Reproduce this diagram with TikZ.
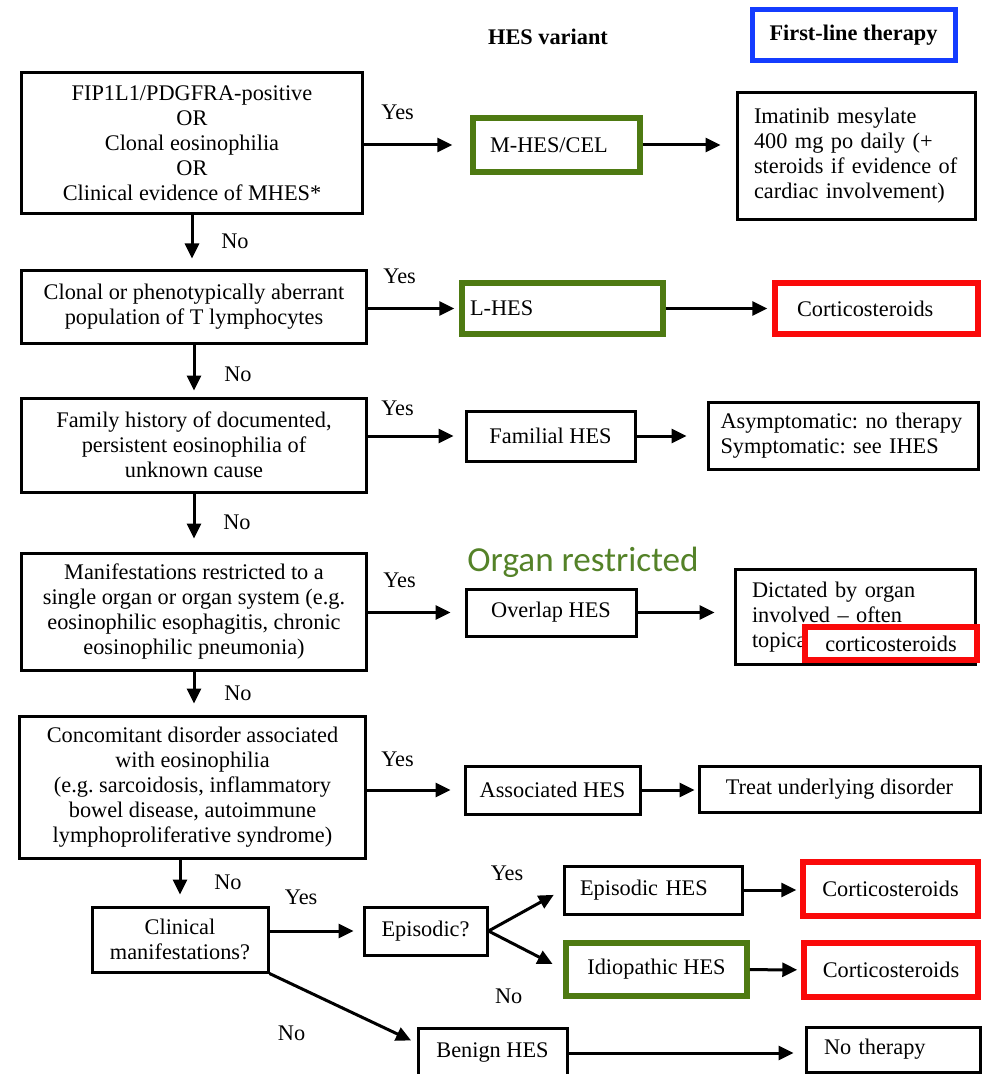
\documentclass[tikz,border=0pt]{standalone}
\usepackage{fontspec}
\setmainfont{Liberation Serif}
\newfontfamily\organfont{Carlito}
\usepackage{xcolor}
\usepackage{tikz}
\usetikzlibrary{arrows.meta,positioning,calc}
\definecolor{hesgreen}{RGB}{78,122,18}
\definecolor{hesred}{RGB}{250,10,10}
\definecolor{hesblue}{RGB}{20,60,255}
\definecolor{organgreen}{RGB}{84,130,40}
\frenchspacing

\begin{document}
\begin{tikzpicture}[x=0.2mm, y=-0.2mm, font=\fontsize{12.7}{14.2}\selectfont]
\tikzstyle{box}=[draw, line width=0.6mm, align=center, inner sep=0pt, fill=white]
\tikzstyle{lbox}=[box, align=left]
\tikzstyle{greenbox}=[box, draw=hesgreen, line width=1.1mm]
\tikzstyle{redbox}=[box, draw=hesred, line width=1.1mm]
\tikzstyle{arr}=[-{Triangle[length=3mm,width=2.8mm]}, line width=0.6mm, shorten >=1mm]
\tikzstyle{down}=[arr, shorten >=2mm]

\useasboundingbox (0,0) rectangle (989,1074);

% column headers
\node[font=\fontsize{12.7}{14.2}\selectfont\bfseries] (hvar) at (548,37) {HES variant};
\node[box, draw=hesblue, line width=1mm, minimum width=40.6mm, minimum height=10.2mm,
      font=\fontsize{12.7}{14.2}\selectfont\bfseries] (ftherapy) at (853.5,35.5) {First-line therapy};

% questions (left column)
\node[box, minimum width=68mm, minimum height=28mm] (q1) at (192,143)
  {FIP1L1/PDGFRA-positive\\OR\\Clonal eosinophilia\\OR\\Clinical evidence of MHES*};
\node[box, minimum width=68.8mm, minimum height=14.6mm] (q2) at (194,306.5)
  {Clonal or phenotypically aberrant\\population of T lymphocytes};
\node[box, minimum width=68.8mm, minimum height=18.8mm] (q3) at (194,445)
  {Family history of documented,\\persistent eosinophilia of\\unknown cause};
\node[box, minimum width=68.8mm, minimum height=23.4mm] (q4) at (194,611.5)
  {Manifestations restricted to a\\single organ or organ system (e.g.\\eosinophilic esophagitis, chronic\\eosinophilic pneumonia)};
\node[box, minimum width=69mm, minimum height=28.4mm] (q5) at (192.5,787)
  {Concomitant disorder associated\\with eosinophilia\\(e.g. sarcoidosis, inflammatory\\bowel disease, autoimmune\\lymphoproliferative syndrome)};
\node[box, minimum width=35.2mm, minimum height=13mm] (q6) at (180,939.5)
  {Clinical\\manifestations?};
\node[box, minimum width=24.6mm, minimum height=9.6mm] (epq) at (425.5,931) {Episodic?};

% HES variants
\node[greenbox, align=left, text width=26.6mm, minimum width=33.4mm, minimum height=10.8mm] (mhes) at (556.5,145) {M-HES/CEL};
\node[greenbox, align=left, text width=37mm, minimum width=40.2mm, minimum height=10.2mm] (lhes) at (562.5,308.5) {L-HES};
\node[box, minimum width=33.8mm, minimum height=10mm] (fam) at (550.5,436) {Familial HES};
\node[box, minimum width=34mm, minimum height=9.4mm] (overlap) at (551,612.5) {Overlap HES};
\node[box, minimum width=35mm, minimum height=9.6mm] (assoc) at (552.5,790) {Associated HES};
\node[lbox, text width=29.2mm, minimum width=35.6mm, minimum height=9.6mm] (ephes) at (653,890) {Episodic HES};
\node[greenbox, minimum width=36.2mm, minimum height=10.6mm] (idio) at (656.5,969.5) {Idiopathic HES};
\node[box, minimum width=29.8mm, minimum height=10mm] (benign) at (492.5,1053) {Benign HES};

\node[font=\organfont\fontsize{20}{24}\selectfont, text=organgreen] (organ) at (583,562) {Organ restricted};

% first-line therapy
\node[lbox, text width=40.8mm, minimum width=47.6mm, minimum height=25.2mm] (imat) at (856,156)
  {Imatinib mesylate\\400 mg po daily (+\\steroids if evidence of\\cardiac involvement)};
\node[redbox, align=left, text width=31.8mm, minimum width=40.6mm, minimum height=10.2mm] (cort1) at (876.5,308.5) {Corticosteroids};
\node[lbox, text width=49mm, minimum width=54mm, minimum height=13.4mm] (asym) at (843,435.5)
  {Asymptomatic: no therapy\\Symptomatic: see IHES};
\node[lbox, text width=41.2mm, minimum width=48mm, minimum height=19mm] (dict) at (855,617)
  {Dictated by organ\\involved -- often\\topical corticosteroids};
\node[redbox, minimum width=34.4mm, minimum height=6.6mm] (dictred) at (891,643.5) {corticosteroids};
\node[box, minimum width=56.2mm, minimum height=9.2mm] (treat) at (839.5,789) {Treat underlying disorder};
\node[redbox, minimum width=35mm, minimum height=10.8mm] (cort2) at (890.5,889) {Corticosteroids};
\node[redbox, minimum width=34.8mm, minimum height=10.8mm] (cort3) at (891,970) {Corticosteroids};
\node[lbox, text width=27.6mm, minimum width=34.8mm, minimum height=9mm] (nother) at (893,1049.5) {No therapy};

% yes branches
\draw[arr, shorten >=3.6mm] (q1.east |- mhes) -- node[pos=.32, yshift=6.6mm] {Yes} (mhes);
\draw[arr, shorten >=3mm] (mhes) -- (mhes -| imat.west);
\draw[arr] (q2.east |- lhes) -- node[pos=.35, yshift=6.4mm] {Yes} (lhes);
\draw[arr] (lhes) -- (cort1);
\draw[arr, shorten >=2.2mm] (q3.east |- fam) -- node[pos=.31, yshift=5.6mm] {Yes} (fam);
\draw[arr, shorten >=4mm] (fam) -- (fam -| asym.west);
\draw[arr, shorten >=2.8mm] (q4.east |- overlap) -- node[pos=.33, yshift=6.4mm] {Yes} (overlap);
\draw[arr, shorten >=3.8mm] (overlap) -- (overlap -| dict.west);
\draw[arr, shorten >=2.6mm] (q5.east |- assoc) -- node[pos=.32, yshift=6.2mm] {Yes} (assoc);
\draw[arr, shorten >=0.6mm] (assoc) -- (assoc -| treat.west);
\draw[arr, shorten >=1.8mm] (q6.east |- epq) -- node[pos=.34, yshift=6.8mm] {Yes} (epq);
\draw[arr, shorten >=2mm] (epq.east) -- node[pos=.25, yshift=9.5mm] {Yes} (ephes.west);
\draw[arr, shorten >=2.4mm] (epq.east) -- node[pos=.27, yshift=-11mm] {No} (idio.west);
\draw[arr, shorten >=0.8mm] (ephes) -- (ephes -| cort2.west);
\draw[arr, shorten >=0.8mm] (idio) -- (cort3);
\draw[arr, shorten >=1.2mm] (q6.south east) -- node[pos=.15, yshift=-9.8mm] {No} ([yshift=2mm]benign.west);
\draw[arr, shorten >=2.2mm] (benign) -- (benign -| nother.west);

% no branches
\draw[down] (q1.south) -- node[midway, xshift=8.6mm] {No} (q1.south |- q2.north);
\draw[down, shorten >=1.2mm] (q2.south) -- node[pos=.58, xshift=8.8mm] {No} (q2.south |- q3.north);
\draw[down, shorten >=2.6mm] (q3.south) -- node[midway, xshift=8.6mm] {No} (q3.south |- q4.north);
\draw[down, shorten >=2.2mm] (q4.south) -- node[midway, xshift=8.8mm] {No} (q4.south |- q5.north);
\draw[down, shorten >=2.2mm] (q6 |- q5.south) -- node[midway, xshift=9.6mm] {No} (q6.north);
\end{tikzpicture}
\end{document}
